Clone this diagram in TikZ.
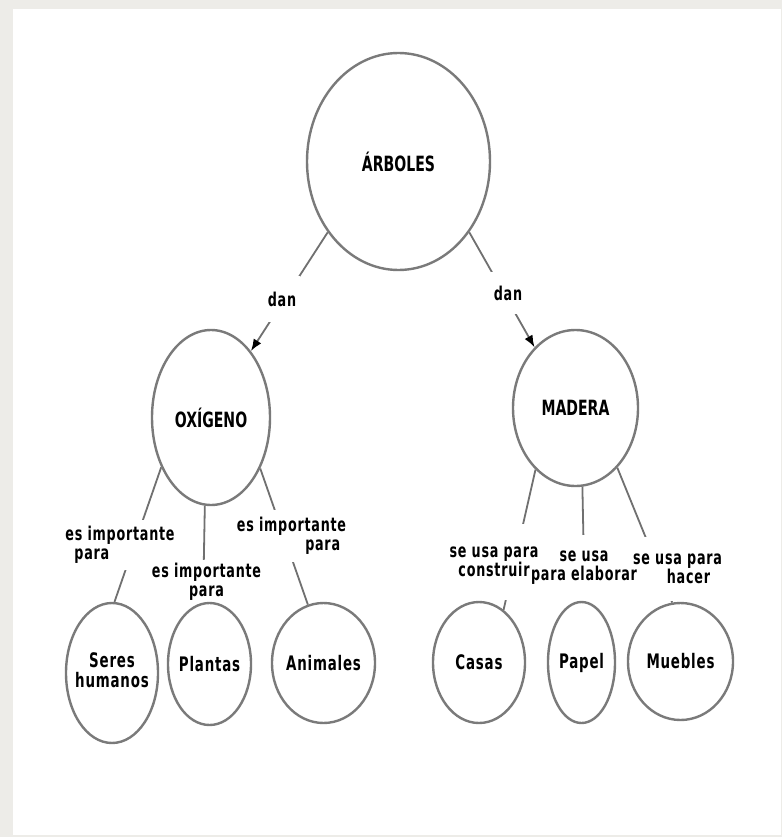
\documentclass[tikz,border=0pt]{standalone}
\usepackage{fontspec}
\setmainfont{DejaVu Sans}[FakeStretch=0.67]
\usetikzlibrary{shapes.geometric,arrows.meta}
\definecolor{bggray}{HTML}{EDECE8}
\definecolor{circ}{HTML}{7A7A7A}
\definecolor{lnk}{HTML}{707070}
\newcommand{\zw}[1]{\makebox[0pt]{#1}}
\pgfdeclarelayer{back}
\pgfdeclarelayer{mid}
\pgfsetlayers{back,mid,main}
\begin{document}
\begin{tikzpicture}[x=1pt,y=-1pt,
  bubble/.style={ellipse, draw=circ, line width=2.4pt, inner sep=0pt, text=black,
    font=\bfseries\fontsize{20pt}{21pt}\selectfont\addfontfeature{LetterSpace=4}},
  title/.style={bubble, font=\bfseries\fontsize{21pt}{22pt}\selectfont},
  link/.style={draw=lnk, line width=1.8pt},
  arrowlink/.style={link, -{Latex[length=12pt,width=9pt,color=black]}},
  lbl/.style={inner xsep=2pt, inner ysep=3pt, text=black,
    font=\bfseries\fontsize{19pt}{19pt}\selectfont\addfontfeature{LetterSpace=4}}
]
\useasboundingbox (0,0) rectangle (782,837);
\begin{pgfonlayer}{back}
\fill[bggray] (0,0) rectangle (782,837);
\fill[white] (13,9) rectangle (781,835);
\end{pgfonlayer}

% main nodes
\node[title, minimum width=183pt, minimum height=217pt] (arb) at (398.5,161.5) {\zw{ÁRBOLES}};
\node[title, minimum width=118pt, minimum height=175pt] (oxi) at (211,417.5) {\zw{OXÍGENO}};
\node[title, minimum width=125pt, minimum height=156pt] (mad) at (575.5,408) {\zw{MADERA}};

% leaves
\node[bubble, minimum width=92pt, minimum height=140pt] (seres) at (112,673)
  {\zw{\raisebox{10pt}{\begin{tabular}{@{}c@{}}Seres\\[-1pt]humanos\end{tabular}}}};
\node[bubble, minimum width=83pt, minimum height=122pt] (plantas) at (209.5,664) {\zw{Plantas}};
\node[bubble, minimum width=103pt, minimum height=120pt] (anim) at (323.5,663) {\zw{Animales}};
\node[bubble, minimum width=92pt, minimum height=121pt] (casas) at (479,662.5) {\zw{Casas}};
\node[bubble, minimum width=67pt, minimum height=121pt] (papel) at (581.5,662.5) {\zw{Papel}};
\node[bubble, minimum width=105pt, minimum height=117pt] (muebles) at (680.5,661.5) {\zw{Muebles}};

% connector labels (text on top)
\node[lbl, minimum width=36pt, minimum height=46pt] (dan1) at (282,299) {dan};
\node[lbl, minimum width=36pt, minimum height=42pt] (dan2) at (508,293) {dan};
\node[lbl, align=left, minimum height=50pt] (imp1) at (120,545) {es importante\\\hspace*{9pt}para};
\node[lbl, align=center, minimum height=42pt] (imp2) at (206.5,582) {es importante\\para};
\node[lbl, align=right, minimum height=52pt] (imp3) at (291.5,536) {es importante\\para\hspace*{6pt}};
\node[lbl, align=center, minimum height=76pt] (uso1) at (494,562) {se usa para\\construir};
\node[lbl, align=center, minimum height=66pt] (uso2) at (584,568) {se usa\\para elaborar};
\node[lbl, align=center, minimum height=64pt] (uso3) at (677.5,569) {se usa para\\\hspace*{22pt}hacer};

% white gaps behind the labels, cutting the connectors
\begin{pgfonlayer}{mid}
\foreach \n in {dan1,dan2,imp1,imp2,imp3,uso1,uso2,uso3}
  \fill[white] (\n.south west) rectangle (\n.north east);
\end{pgfonlayer}

% connectors
\begin{pgfonlayer}{back}
\draw[arrowlink] (arb.225) -- (oxi.59);
\draw[arrowlink] (arb.315) -- (mad.124);
\draw[link] (oxi.225) -- (seres.88);
\draw[link] (oxi.266) -- (plantas.96);
\draw[link] (oxi.314) -- (anim.105);
\draw[link] (mad.237) -- (casas.65);
\draw[link] (mad.275) -- (papel.87);
\draw[link] (mad.305) -- (muebles.98);
\end{pgfonlayer}
\end{tikzpicture}
\end{document}
